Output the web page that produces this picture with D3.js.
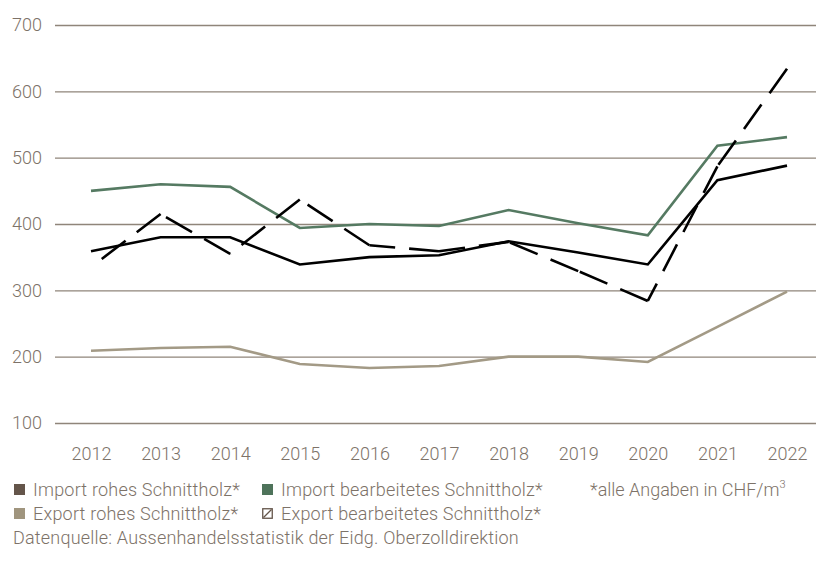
<!DOCTYPE html>
<html>
<head>
<meta charset="utf-8">
<script src="https://cdn.jsdelivr.net/npm/d3@7"></script>
<style>
  body { margin: 0; background: #fff; }
  svg text { font-family: Roboto, "DejaVu Sans", sans-serif; font-weight: 300; fill: #7d7268; }
</style>
</head>
<body>
<div id="chart"></div>
<script>
// Preise Schnittholz, CHF/m3
var years = [2012, 2013, 2014, 2015, 2016, 2017, 2018, 2019, 2020, 2021, 2022]
var yTicks = [100, 200, 300, 400, 500, 600, 700]

var importRoh = [359, 380, 380, 339, 350, 353, 374, 357, 339, 466, 488]
var importBearb = [450, 460, 456, 394, 400, 397, 421, 401, 383, 518, 531]
var exportRoh = [209, 213, 215, 189, 183, 186, 200, 200, 192, 245, 298]
var exportBearb = [335, 415, 355, 437, 368, 359, 373, 329, 284, 487, 634]

var legendItems = [
    {label: 'Import rohes Schnittholz*', color: '#64554a', type: 'fill'},
    {label: 'Import bearbeitetes Schnittholz*', color: '#4e735a', type: 'fill'},
    {label: 'Export rohes Schnittholz*', color: '#a0957e', type: 'fill'},
    {label: 'Export bearbeitetes Schnittholz*', color: '#64554a', type: 'hatch'}
]

var width = 816, height = 570

var svg = d3.select('#chart').append('svg')
    .attr('width', width)
    .attr('height', height)

var x = d3.scalePoint().domain(years).range([91, 787])
var y = d3.scaleLinear().domain([100, 700]).range([423, 25])

// grid + y labels
var yAxis = svg.append('g')
    .attr('transform', 'translate(55,0)')
    .call(d3.axisLeft(y).tickValues(yTicks).tickSize(-(width - 55)).tickPadding(13))
yAxis.select('.domain').remove()
yAxis.selectAll('.tick line').attr('stroke', '#8f857a').attr('stroke-width', 1.3)
yAxis.selectAll('.tick text').attr('font-size', '18px').style('fill', '#7d7268')

// x labels
var xAxis = svg.append('g')
    .attr('transform', 'translate(0,423)')
    .call(d3.axisBottom(x).tickSize(0).tickPadding(24))
xAxis.select('.domain').remove()
xAxis.selectAll('.tick text').attr('font-size', '18px').style('fill', '#7d7268')

var line = d3.line().x(function(d){ return x(d.year) }).y(function(d){ return y(d.value) })

function toPoints(values){
    return values.map(function(v, i){ return {year: years[i], value: v} })
}

function drawLine(values, color){
    svg.append('path')
        .attr('d', line(toPoints(values)))
        .attr('fill', 'none')
        .attr('stroke', color)
        .attr('stroke-width', 2.6)
        .attr('stroke-linejoin', 'miter')
}

drawLine(exportRoh, '#a39a86')
drawLine(importBearb, '#557a62')
drawLine(importRoh, '#000')

// dashed line: dash pattern restarts on every segment, aligned to end in a dash
var dash = 30, gap = 14
d3.pairs(toPoints(exportBearb)).forEach(function(seg){
    var p = svg.append('path')
        .attr('d', line(seg))
        .attr('fill', 'none')
        .attr('stroke', '#000')
        .attr('stroke-width', 2.6)
    var len = p.node().getTotalLength()
    var period = dash + gap
    var off = ((dash - len) % period + period) % period
    p.attr('stroke-dasharray', dash + ',' + gap).attr('stroke-dashoffset', off)
})

// legend
var legendPos = [[14, 496], [262, 496], [14, 520], [262, 520]]
legendItems.forEach(function(d, i){
    var g = svg.append('g').attr('transform', 'translate(' + legendPos[i][0] + ',' + legendPos[i][1] + ')')
    if (d.type == 'fill'){
        g.append('rect').attr('x', 0).attr('y', -12).attr('width', 11).attr('height', 11).attr('fill', d.color)
    } else {
        g.append('rect').attr('x', 0.75).attr('y', -11.25).attr('width', 9.5).attr('height', 9.5)
            .attr('fill', 'none').attr('stroke', d.color).attr('stroke-width', 1.3)
        g.append('line').attr('x1', 1.5).attr('y1', -2.5).attr('x2', 9.5).attr('y2', -10.5)
            .attr('stroke', d.color).attr('stroke-width', 1.3)
    }
    g.append('text').attr('x', 19).attr('y', 0).attr('font-size', '18px')
        .attr('letter-spacing', '0.2px').text(d.label)
})

var note = svg.append('text').attr('x', 590).attr('y', 496).attr('font-size', '18px')
note.append('tspan').text('*alle Angaben in CHF/m')
note.append('tspan').attr('font-size', '11px').attr('dy', -8).text('3')

svg.append('text').attr('x', 13).attr('y', 544).attr('font-size', '18px')
    .attr('letter-spacing', '0.2px')
    .text('Datenquelle: Aussenhandelsstatistik der Eidg. Oberzolldirektion')
</script>
</body>
</html>
